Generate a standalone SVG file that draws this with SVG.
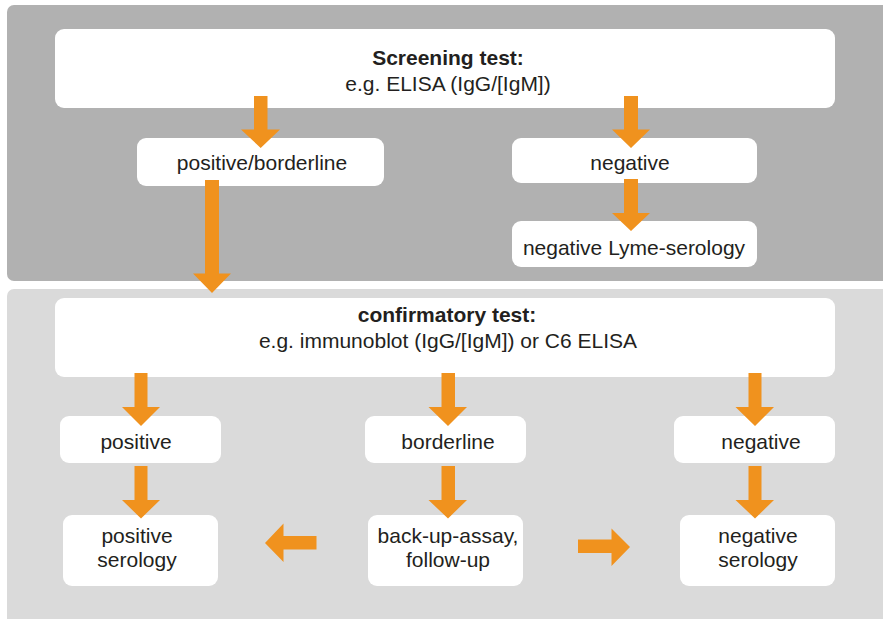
<svg xmlns="http://www.w3.org/2000/svg" width="883" height="619" viewBox="0 0 883 619">
<style>
.panel1{fill:#b1b1b1}
.panel2{fill:#dadada}
.box{fill:#ffffff}
text{font-family:"Liberation Sans",Arial,Helvetica,sans-serif;font-size:21px;fill:#231f20;text-anchor:middle}
.b{font-weight:bold}
.arr{fill:#f0921e}
</style>
<rect width="883" height="619" fill="#ffffff"/>
<rect class="panel1" x="7" y="5" width="882" height="276" rx="7"/>
<rect class="panel2" x="7" y="289" width="884" height="340" rx="7"/>

<g id="screening">
<rect class="box" x="55" y="29" width="780" height="79" rx="9"/>
<text class="b" x="448" y="65">Screening test:</text>
<text x="448" y="91">e.g. ELISA (IgG/[IgM])</text>
</g>
<g id="pos-borderline">
<rect class="box" x="137" y="138" width="247" height="48" rx="9"/>
<text x="262" y="170">positive/borderline</text>
</g>
<g id="negative-top">
<rect class="box" x="512" y="138" width="245" height="45" rx="9"/>
<text x="630" y="170">negative</text>
</g>
<g id="neg-lyme">
<rect class="box" x="512" y="221" width="245" height="46" rx="9"/>
<text x="634" y="255">negative Lyme-serology</text>
</g>
<g id="confirmatory">
<rect class="box" x="55" y="298" width="780" height="79" rx="9"/>
<text class="b" x="447" y="322">confirmatory test:</text>
<text x="448" y="348">e.g. immunoblot (IgG/[IgM]) or C6 ELISA</text>
</g>
<g id="positive">
<rect class="box" x="60" y="416" width="161" height="47" rx="9"/>
<text x="136" y="449">positive</text>
</g>
<g id="borderline">
<rect class="box" x="365" y="416" width="161" height="47" rx="9"/>
<text x="448" y="449">borderline</text>
</g>
<g id="negative">
<rect class="box" x="674" y="416" width="161" height="47" rx="9"/>
<text x="761" y="449">negative</text>
</g>
<g id="pos-serology">
<rect class="box" x="63" y="515" width="155" height="71" rx="9"/>
<text x="137" y="543">positive</text>
<text x="137" y="567">serology</text>
</g>
<g id="backup">
<rect class="box" x="368" y="515" width="155" height="71" rx="9"/>
<text x="448" y="543">back-up-assay,</text>
<text x="448" y="567">follow-up</text>
</g>
<g id="neg-serology">
<rect class="box" x="680" y="515" width="155" height="71" rx="9"/>
<text x="758" y="543">negative</text>
<text x="758" y="567">serology</text>
</g>

<g id="connectors">
<polygon class="arr" points="254,96 267.5,96 267.5,129.5 280,129.5 260.7,148 241,129.5 254,129.5"/>
<polygon class="arr" points="624,96 638,96 638,129.5 650,129.5 631,148 612,129.5 624,129.5"/>
<polygon class="arr" points="624,179 638,179 638,213 650,213 631,231 612,213 624,213"/>
<polygon class="arr" points="205,180 219,180 219,273.5 231,273.5 212,293 193,273.5 205,273.5"/>
<polygon class="arr" points="134.5,373 147.5,373 147.5,407 160,407 141,426 122,407 134.5,407"/>
<polygon class="arr" points="441.5,373 455,373 455,407 467,407 448,426 428.5,407 441.5,407"/>
<polygon class="arr" points="748.5,373 761.5,373 761.5,407 774,407 755,426 735.5,407 748.5,407"/>
<polygon class="arr" points="134.5,466 147.5,466 147.5,500 160,500 141,518.5 122,500 134.5,500"/>
<polygon class="arr" points="441.5,466 455,466 455,500 467,500 448,518.5 428.5,500 441.5,500"/>
<polygon class="arr" points="748.5,466 761.5,466 761.5,500 774,500 755,518.5 735.5,500 748.5,500"/>
<polygon class="arr" points="316.5,536 316.5,549.5 283.5,549.5 283.5,562 265,543 283.5,523.5 283.5,536"/>
<polygon class="arr" points="578,539.5 578,553 611.5,553 611.5,566 630,547 611.5,528.5 611.5,539.5"/>
</g>
</svg>
